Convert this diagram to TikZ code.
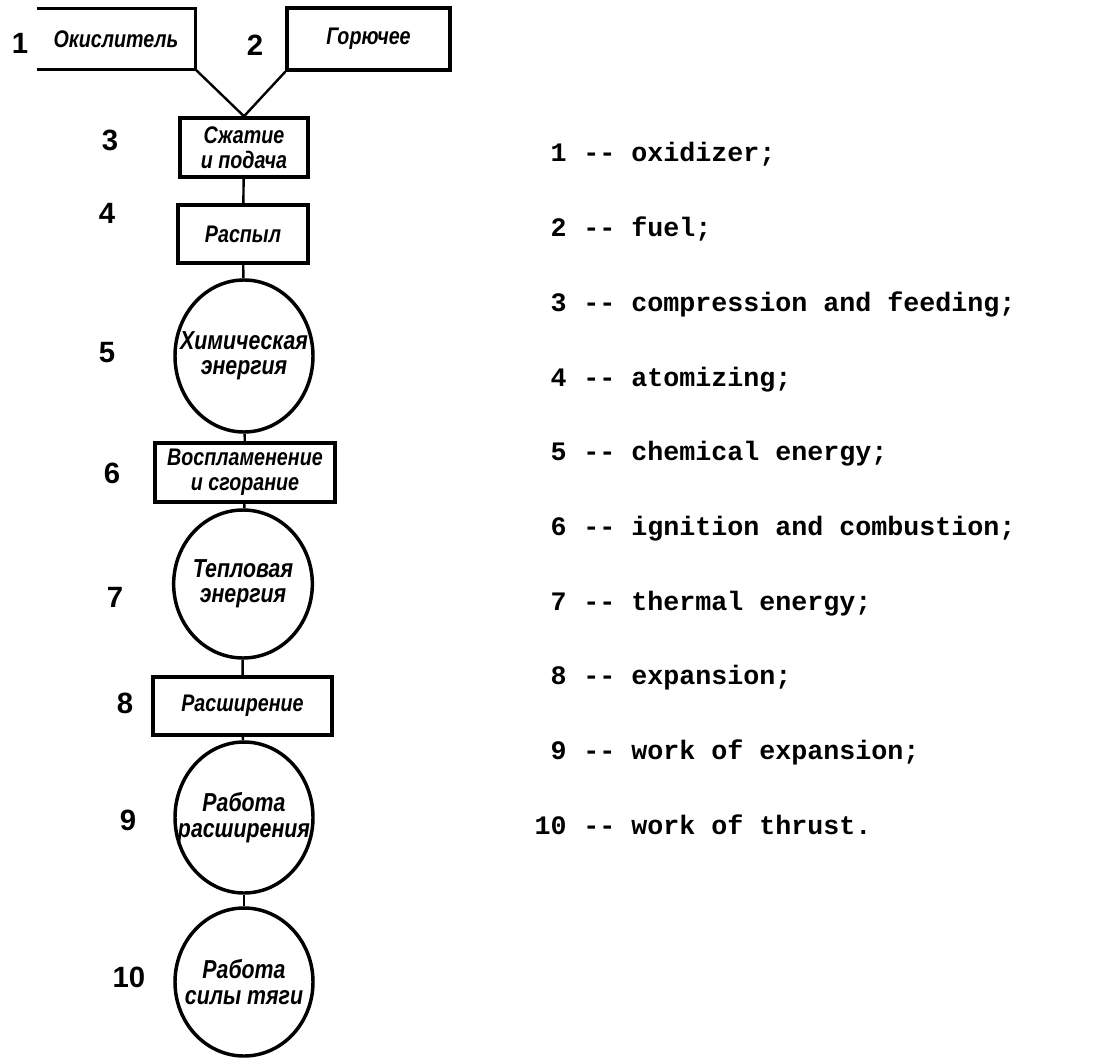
\documentclass[tikz,border=0pt]{standalone}
\usepackage{fontspec}
\setmainfont{Liberation Sans}
\newfontfamily\boxfont[FakeStretch=0.82]{Liberation Sans}
\newfontfamily\legfont{Liberation Mono}
\usetikzlibrary{shapes.geometric}
\newcommand\zwline[1]{\makebox[0pt][c]{#1}}
\begin{document}
\begin{tikzpicture}[x=0.75pt,y=-0.75pt,
  blk/.style={draw, line width=2.6pt, inner sep=0pt, align=center,
    font=\boxfont\bfseries\itshape\fontsize{18}{18.5}\selectfont},
  rnd/.style={ellipse, draw, line width=2.6pt, inner sep=0pt, align=center,
    font=\boxfont\bfseries\itshape\fontsize{19.5}{19}\selectfont},
  lnk/.style={line width=1.8pt},
  num/.style={font=\bfseries\fontsize{22}{22}\selectfont},
  legn/.style={anchor=base east, inner sep=0pt, font=\legfont\bfseries\fontsize{20}{20}\selectfont},
  legt/.style={anchor=base west, inner sep=0pt, font=\legfont\bfseries\fontsize{20}{20}\selectfont}
]
\useasboundingbox[fill=white] (0,0) rectangle (1119,1059);

% top boxes
\node[inner sep=0pt, minimum width=118.5pt, minimum height=45pt,
  font=\boxfont\bfseries\itshape\fontsize{18}{18.5}\selectfont] (ox) at (116,39) {Окислитель};
\draw[line width=2.6pt] (ox.north west) -- (ox.north east) -- (ox.south east) -- (ox.south west);
\node[blk, minimum width=122.25pt, minimum height=46.5pt] (fu) at (368.5,39) {Горючее};

% chain
\node[blk, minimum width=96pt, minimum height=44.25pt] (c3) at (244,147.5) {Сжатие\\и подача};
\node[blk, minimum width=97.5pt, minimum height=43.5pt] (c4) at (243,234) {Распыл};
\node[rnd, minimum width=103.5pt, minimum height=114pt] (c5) at (244,356) {\zwline{Химическая}\\\zwline{энергия}};
\node[blk, minimum width=135pt, minimum height=44.25pt] (c6) at (245,472.5) {Воспламенение\\и сгорание};
\node[rnd, minimum width=104pt, minimum height=111pt] (c7) at (243,584) {\zwline{Тепловая}\\\zwline{энергия}};
\node[blk, minimum width=134.25pt, minimum height=43.5pt] (c8) at (242.5,706) {Расширение};
\node[rnd, minimum width=103.5pt, minimum height=113.25pt] (c9) at (244,817.5) {\zwline{Работа}\\\zwline{расширения}};
\node[rnd, minimum width=103.5pt, minimum height=111pt] (c10) at (244,982) {\zwline{Работа}\\\zwline{силы тяги}};

% connectors
\draw[lnk] (ox.south east) -- (c3.north);
\draw[lnk] (fu.south west) -- (c3.north);
\draw[lnk] (c3) -- (c4);
\draw[lnk] (c4) -- (c5);
\draw[lnk] (c5) -- (c6);
\draw[lnk] (c6) -- (c7);
\draw[lnk] (c7) -- (c8);
\draw[lnk] (c8) -- (c9);
\draw[lnk] (c9) -- (c10);

% numbers
\node[num] (n1) at (20,43) {1};
\node[num] (n2) at (255,45) {2};
\node[num] (n3) at (110,140) {3};
\node[num] (n4) at (107,213) {4};
\node[num] (n5) at (107,353) {5};
\node[num] (n6) at (112,473) {6};
\node[num] (n7) at (115,597) {7};
\node[num] (n8) at (125,703) {8};
\node[num] (n9) at (128,820) {9};
\node[num] (n10) at (129,977) {10};

% legend
\foreach \i/\t [count=\k from 0] in {1/-{}- oxidizer;, 2/-{}- fuel;, 3/-{}- compression and feeding;, 4/-{}- atomizing;, 5/-{}- chemical energy;, 6/-{}- ignition and combustion;, 7/-{}- thermal energy;, 8/-{}- expansion;, 9/-{}- work of expansion;, 10/-{}- work of thrust.}{
  \node[legn] (ln\i) at (567,{162+74.7*\k}) {\i};
  \node[legt] (lt\i) at (583,{162+74.7*\k}) {\t};
}
\end{tikzpicture}
\end{document}
